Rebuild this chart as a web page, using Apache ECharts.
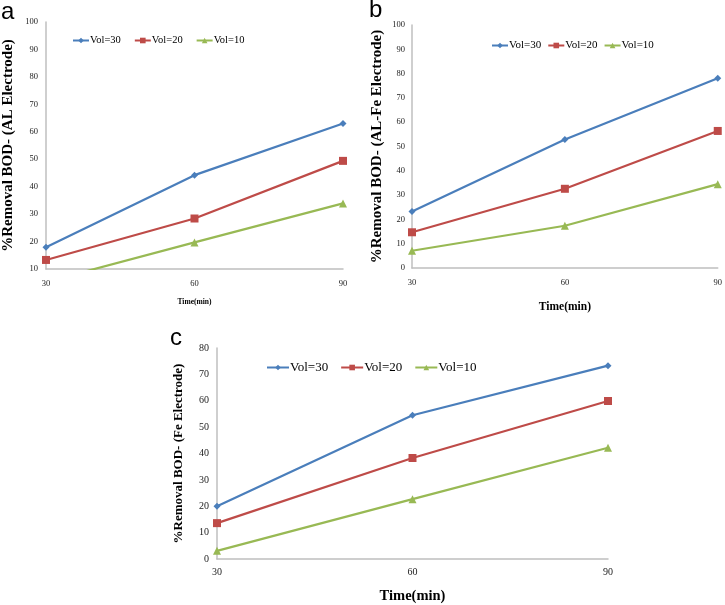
<!DOCTYPE html>
<html>
<head>
<meta charset="utf-8">
<script src="https://cdn.jsdelivr.net/npm/echarts@6/dist/echarts.min.js"></script>
<style>html,body{margin:0;padding:0;background:#fff}#c{width:725px;height:605px}</style>
</head>
<body>
<div id="c"></div>
<script>
var times = [30, 60, 90];
var seriesNames = ['Vol=30', 'Vol=20', 'Vol=10'];
// Panel a: AL electrode
var aVol30 = [17.9, 44.2, 63.0];
var aVol20 = [13.3, 28.4, 49.4];
var aVol10 = [5.3, 19.7, 33.9];
// Panel b: AL-Fe electrode
var bVol30 = [23.3, 52.9, 78.1];
var bVol20 = [14.7, 32.6, 56.4];
var bVol10 = [7.1, 17.4, 34.5];
// Panel c: Fe electrode
var cVol30 = [20.0, 54.5, 73.3];
var cVol20 = [13.6, 38.3, 59.9];
var cVol10 = [3.1, 22.7, 42.2];
var yTitles = ['%Removal BOD- (AL Electrode)', '%Removal BOD- (AL-Fe Electrode)', '%Removal BOD- (Fe Electrode)'];
var xTitle = 'Time(min)';
var panelLetters = ['a', 'b', 'c'];

var colors = ['#4A7EBB', '#BE4B48', '#98B954'];
var symbols = ['diamond', 'rect', 'triangle'];
var symSizes = [7, 8, 8];
var serif = '"Liberation Serif", "DejaVu Serif", serif';

function pts(vals) { return times.map(function (t, i) { return [t, vals[i]]; }); }

var panels = [
  { data: [aVol30, aVol20, aVol10], grid: { left: 45, top: 22, width: 298, height: 247 }, yMin: 10, yMax: 100,
    tick: 8.5, tickMargin: 8, xTickMargin: 10, yName: 15, yGap: 30, xName: 7.5, xGap: 29,
    legend: { left: 72, top: 35 }, lfont: 10.5, lw: 16, lgap: 13 },
  { data: [bVol30, bVol20, bVol10], grid: { left: 412, top: 25, width: 306, height: 243 }, yMin: 0, yMax: 100,
    tick: 8.5, tickMargin: 7, xTickMargin: 10, yName: 15, yGap: 27, xName: 11.5, xGap: 33,
    legend: { left: 491, top: 40 }, lfont: 11, lw: 16, lgap: 6 },
  { data: [cVol30, cVol20, cVol10], grid: { left: 217, top: 348, width: 391, height: 217 }, yMin: 0, yMax: 80,
    tick: 10, tickMargin: 8, xTickMargin: 8, yName: 13, yGap: 32, xName: 14.5, xGap: 30,
    legend: { left: 266, top: 361 }, lfont: 13, lw: 22, lgap: 12 }
];

var option = {
  animation: false,
  backgroundColor: '#fff',
  grid: [], xAxis: [], yAxis: [], series: [], legend: [],
  graphic: []
};

panels.forEach(function (p, pi) {
  option.grid.push(Object.assign({ containLabel: false }, p.grid));
  option.xAxis.push({
    type: 'value', gridIndex: pi, min: 30, max: 90, interval: 30,
    name: xTitle, nameLocation: 'middle', nameGap: p.xGap,
    nameTextStyle: { fontFamily: serif, fontWeight: 'bold', fontSize: p.xName, color: '#000' },
    axisLine: { show: true, lineStyle: { color: '#BFBFBF', width: 1.5 } },
    axisTick: { show: false },
    splitLine: { show: false },
    axisLabel: { fontFamily: serif, fontSize: p.tick, color: '#222', margin: p.xTickMargin }
  });
  option.yAxis.push({
    type: 'value', gridIndex: pi, min: p.yMin, max: p.yMax, interval: 10,
    name: yTitles[pi], nameLocation: 'middle', nameGap: p.yGap, nameRotate: 90,
    nameTextStyle: { fontFamily: serif, fontWeight: 'bold', fontSize: p.yName, color: '#000' },
    axisLine: { show: true, lineStyle: { color: '#BFBFBF', width: 1.5 } },
    axisTick: { show: false },
    splitLine: { show: false },
    axisLabel: { fontFamily: serif, fontSize: p.tick, color: '#222', margin: p.tickMargin }
  });
  p.data.forEach(function (vals, si) {
    option.series.push({
      type: 'line', name: seriesNames[si], xAxisIndex: pi, yAxisIndex: pi,
      data: pts(vals), clip: true,
      symbol: symbols[si], symbolSize: symSizes[si], showSymbol: true,
      lineStyle: { color: colors[si], width: 2.2 },
      itemStyle: { color: colors[si] }
    });
  });
  option.legend.push({
    left: p.legend.left, top: p.legend.top, orient: 'horizontal', padding: 0,
    data: seriesNames, itemWidth: p.lw, itemHeight: 7, itemGap: p.lgap,
    selectedMode: false,
    textStyle: { fontFamily: serif, fontSize: p.lfont, color: '#000', padding: [0, 0, 0, -4] }
  });
});

var letterFont = '24px "Liberation Sans", Arial, sans-serif';
option.graphic = [
  { type: 'text', left: 1, top: 0, style: { text: panelLetters[0], font: letterFont, fill: '#000' } },
  { type: 'text', left: 369, top: -2, style: { text: panelLetters[1], font: letterFont, fill: '#000' } },
  { type: 'text', left: 170, top: 326, style: { text: panelLetters[2], font: letterFont, fill: '#000' } }
];

var chart = echarts.init(document.getElementById('c'), null, { renderer: 'canvas' });
chart.setOption(option);
</script>
</body>
</html>
